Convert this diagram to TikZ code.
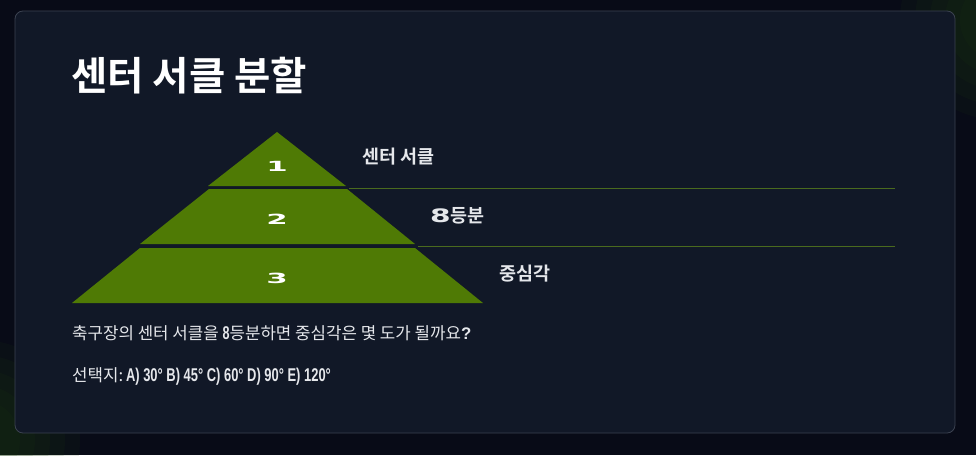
\documentclass[tikz,border=0pt]{standalone}
\usepackage{fontspec}
\setmainfont{Noto Sans CJK KR}
\newfontfamily\krb{Noto Sans CJK KR Bold}
\newfontfamily\numf{DejaVu Sans Bold}
\newfontfamily\condf{Liberation Sans}
\definecolor{bgc}{HTML}{080B17}
\definecolor{cardc}{HTML}{111827}
\definecolor{cardb}{HTML}{3B4250}
\definecolor{tierc}{HTML}{4F7A05}
\definecolor{linec}{HTML}{4A6A1E}
\definecolor{txtc}{HTML}{E5E7EB}
\definecolor{glow}{HTML}{1E3A12}
\newcommand{\widenum}[1]{{\numf\fontsize{14}{14}\selectfont\scalebox{2.2}[1]{#1}}}
\tikzset{
  tier/.style={fill=tierc, draw=none},
  tiernum/.style={text=white, inner sep=0pt},
  tierlabel/.style={text=txtc, font=\krb\fontsize{18.5}{18.5}\selectfont, anchor=west, inner sep=0pt},
  guide/.style={draw=linec, line width=1.8pt},
  body/.style={text=txtc, font=\fontsize{16.8}{16.8}\selectfont, anchor=west, inner sep=0pt},
  glowdisc/.style={fill=glow, fill opacity=0.12, draw=none}
}
\begin{document}
\begin{tikzpicture}[x=1pt,y=-1pt]
\useasboundingbox (0,0) rectangle (976,455);
\fill[bgc] (0,0) rectangle (976,455);
\begin{scope}
\clip (0,0) rectangle (976,455);
\foreach \r in {100,85,70,55,40} {
  \fill[glowdisc] (1000,20) circle (\r);
  \fill[glowdisc] (-20,440) circle (\r);
}
\end{scope}
\node[draw=cardb, fill=cardc, rounded corners=8pt, line width=0.8pt, minimum width=940pt, minimum height=422pt, inner sep=0pt] (card) at (485,222) {};
\node[text=white, font=\krb\fontsize{39.5}{39.5}\selectfont, anchor=base west, inner sep=0pt] (title) at (71,90) {센터 서클 분할};
% pyramid tiers
\path[tier] (277,132) -- (346,186) -- (208,186) -- cycle;
\path[tier] (209,189) -- (347,189) -- (415,244) -- (140,244) -- cycle;
\path[tier] (140,248) -- (415,248) -- (483,303) -- (72,303) -- cycle;
\node[tiernum] (n1) at (277,166) {\widenum{1}};
\node[tiernum] (n2) at (277,219.5) {\widenum{2}};
\node[tiernum] (n3) at (277,278) {\widenum{3}};
\coordinate (l1a) at (349,188.5);
\coordinate (l1b) at (895,188.5);
\coordinate (l2a) at (418,246.5);
\coordinate (l2b) at (895,246.5);
\draw[guide] (l1a) -- (l1b);
\draw[guide] (l2a) -- (l2b);
\node[tierlabel] (t1) at (362,157) {센터 서클};
\node[tierlabel] (t2) at (430,216) {{\numf\scalebox{1.6}[1]{8}}등분};
\node[tierlabel] (t3) at (499,274) {중심각};
\node[body] (q) at (72,333) {축구장의 센터 서클을 {\condf\bfseries\scalebox{0.75}[1.1]{8}}등분하면 중심각은 몇 도가 될까요{\condf\bfseries ?}};
\node[body] (ch) at (72,376) {선택지:\,{\condf\bfseries\scalebox{0.77}[1.1]{A) 30° B) 45° C) 60° D) 90° E) 120°}}};
\end{tikzpicture}
\end{document}
